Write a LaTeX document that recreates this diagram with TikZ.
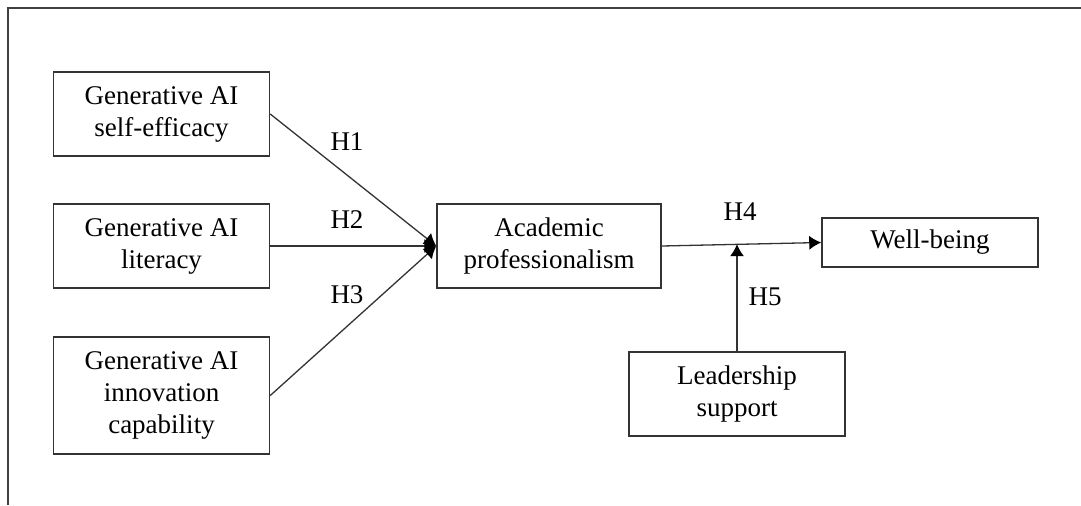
\documentclass[tikz,border=0pt]{standalone}
\usepackage{fontspec}
\setmainfont{Liberation Serif}
\usetikzlibrary{arrows.meta}
\tikzset{
  varbox/.style={draw=black!80, line width=0.75pt, align=center, inner sep=0pt,
    minimum width=108pt, font=\fontsize{13.5}{16}\selectfont},
  hyp/.style={font=\fontsize{13.5}{16}\selectfont},
  link/.style={draw=black!80, line width=0.65pt, -{Latex[length=6pt,width=7pt,black]}}
}
\begin{document}
\begin{tikzpicture}[x=0.5pt,y=-0.5pt]
\useasboundingbox (0,0) rectangle (1081,505);
% frame
\draw[black!75, line width=1pt] (8,505) -- (8,8) -- (1081,8);
% constructs
\node[varbox, minimum height=42pt] (selfeff) at (161.5,114) {Generative AI\\ self-efficacy};
\node[varbox, minimum height=42pt] (literacy) at (161.5,246) {Generative AI\\literacy};
\node[varbox, minimum height=58.5pt] (innov) at (161.5,395.5) {Generative AI\\innovation\\capability};
\node[varbox, minimum height=42pt, minimum width=112pt] (acad) at (549,246) {Academic\\professionalism};
\node[varbox, minimum height=24.5pt] (wellb) at (930,242.5) {Well-being};
\node[varbox, minimum height=42pt] (lead) at (737,394) {Leadership\\support};
% paths
\foreach \src in {selfeff,literacy,innov} {\draw[link] (\src.east) -- (acad.west);}
\draw[link] (acad.east) -- (wellb.west) coordinate[pos=0.53] (mod);
\draw[link] (lead.north) -- (lead.north |- mod);
% hypotheses
\node[hyp] (h1) at (347,142) {H1};
\node[hyp] (h2) at (347,220) {H2};
\node[hyp] (h3) at (347,295) {H3};
\node[hyp] (h4) at (740,212) {H4};
\node[hyp] (h5) at (765,297) {H5};
\end{tikzpicture}
\end{document}
